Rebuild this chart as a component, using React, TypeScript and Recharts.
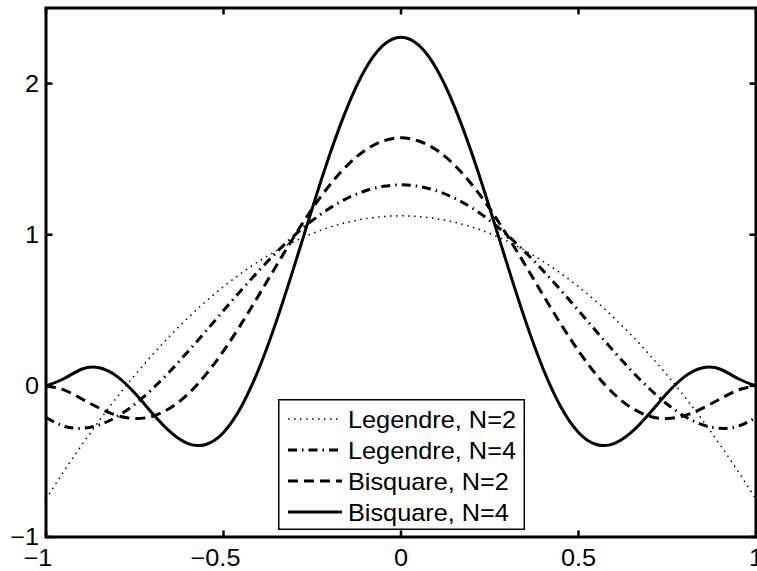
import React from 'react';
import { LineChart, Line, XAxis, YAxis, Legend, ReferenceArea } from 'recharts';

// sample positions along the x axis
const xValues = [
  -1, -0.95, -0.9, -0.85, -0.8, -0.75, -0.7, -0.65, -0.6, -0.55, -0.5,
  -0.45, -0.4, -0.35, -0.3, -0.25, -0.2, -0.15, -0.1, -0.05, 0,
  0.05, 0.1, 0.15, 0.2, 0.25, 0.3, 0.35, 0.4, 0.45, 0.5,
  0.55, 0.6, 0.65, 0.7, 0.75, 0.8, 0.85, 0.9, 0.95, 1
];

const legendreN2 = [
  -0.75, -0.567, -0.394, -0.23, -0.075, 0.07, 0.206, 0.333, 0.45, 0.558, 0.656,
  0.745, 0.825, 0.895, 0.956, 1.008, 1.05, 1.083, 1.106, 1.12, 1.125,
  1.12, 1.106, 1.083, 1.05, 1.008, 0.956, 0.895, 0.825, 0.745, 0.656,
  0.558, 0.45, 0.333, 0.206, 0.07, -0.075, -0.23, -0.394, -0.567, -0.75
];

const legendreN4 = [
  -0.21, -0.266, -0.281, -0.258, -0.203, -0.122, -0.019, 0.098, 0.227, 0.361, 0.498,
  0.633, 0.763, 0.885, 0.996, 1.094, 1.177, 1.243, 1.291, 1.32, 1.33,
  1.32, 1.291, 1.243, 1.177, 1.094, 0.996, 0.885, 0.763, 0.633, 0.498,
  0.361, 0.227, 0.098, -0.019, -0.122, -0.203, -0.258, -0.281, -0.266, -0.21
];

const bisquareN2 = [
  0, -0.027, -0.085, -0.147, -0.196, -0.216, -0.201, -0.146, -0.054, 0.074, 0.231,
  0.41, 0.602, 0.799, 0.992, 1.172, 1.331, 1.462, 1.56, 1.62, 1.641,
  1.62, 1.56, 1.462, 1.331, 1.172, 0.992, 0.799, 0.602, 0.41, 0.231,
  0.074, -0.054, -0.146, -0.201, -0.216, -0.196, -0.147, -0.085, -0.027, 0
];

const bisquareN4 = [
  0, 0.047, 0.11, 0.12, 0.063, -0.048, -0.183, -0.305, -0.382, -0.388, -0.308,
  -0.138, 0.115, 0.435, 0.797, 1.174, 1.535, 1.851, 2.098, 2.254, 2.307,
  2.254, 2.098, 1.851, 1.535, 1.174, 0.797, 0.435, 0.115, -0.138, -0.308,
  -0.388, -0.382, -0.305, -0.183, -0.048, 0.063, 0.12, 0.11, 0.047, 0
];

const xTicks = [-1, -0.5, 0, 0.5, 1];
const yTicks = [-1, 0, 1, 2];

const series = [
  { key: 'legendreN2', name: 'Legendre, N=2', values: legendreN2, width: 1.5, dash: '1.5 4.5' },
  { key: 'legendreN4', name: 'Legendre, N=4', values: legendreN4, width: 3, dash: '9 5 1.5 5' },
  { key: 'bisquareN2', name: 'Bisquare, N=2', values: bisquareN2, width: 3, dash: '10 6' },
  { key: 'bisquareN4', name: 'Bisquare, N=4', values: bisquareN4, width: 3, dash: undefined as string | undefined },
];

const data = xValues.map((x, i) => {
  const row: Record<string, number> = { x };
  series.forEach(s => { row[s.key] = s.values[i]; });
  return row;
});

const FONT = '"Liberation Sans", Arial, Helvetica, sans-serif';
const PLOT_LEFT = 46;
const PLOT_RIGHT = 756;
const PLOT_TOP = 8;
const PLOT_BOTTOM = 537;

const fmt = (v: number) => (v < 0 ? `\u2212${Math.abs(v)}` : `${v}`);

const XTick = (props: any) => {
  const { x, payload } = props;
  const v = payload.value as number;
  const shift = v < 0 ? -8 : 0;
  return (
    <g>
      <line x1={x} x2={x} y1={PLOT_BOTTOM} y2={PLOT_BOTTOM - 6.5} stroke="#000" strokeWidth={2.5} />
      <line x1={x} x2={x} y1={PLOT_TOP} y2={PLOT_TOP + 6.5} stroke="#000" strokeWidth={2.5} />
      <g transform={`translate(${x + shift},566) scale(1.1,1)`}>
        <text textAnchor="middle" fontSize={23} fontFamily={FONT} fill="#000">{fmt(v)}</text>
      </g>
    </g>
  );
};

const YTick = (props: any) => {
  const { y, payload } = props;
  const v = payload.value as number;
  return (
    <g>
      <line x1={PLOT_LEFT} x2={PLOT_LEFT + 6.5} y1={y} y2={y} stroke="#000" strokeWidth={2.5} />
      <line x1={PLOT_RIGHT} x2={PLOT_RIGHT - 6.5} y1={y} y2={y} stroke="#000" strokeWidth={2.5} />
      <g transform={`translate(39,${y + 8}) scale(1.1,1)`}>
        <text textAnchor="end" fontSize={23} fontFamily={FONT} fill="#000">{fmt(v)}</text>
      </g>
    </g>
  );
};

const renderLegend = () => (
  <svg width={247} height={131} style={{ display: 'block' }}>
    <rect x={0.75} y={0.75} width={245.5} height={129.5} fill="#fff" stroke="#000" strokeWidth={1.5} />
    {series.map((s, i) => {
      const cy = 20 + i * 31;
      return (
        <g key={s.key}>
          <line x1={10} x2={64} y1={cy} y2={cy} stroke="#000" strokeWidth={s.width} strokeDasharray={s.dash} />
          <g transform={`translate(70,${cy + 8.5}) scale(1.1,1)`}>
            <text fontSize={23} fontFamily={FONT} fill="#000">{s.name}</text>
          </g>
        </g>
      );
    })}
  </svg>
);

export default function App() {
  return (
    <div style={{ position: 'absolute', left: 0, top: 0, background: '#fff' }}>
      <LineChart width={757} height={571} data={data} margin={{ top: 8, right: 1, left: 0, bottom: 0 }}>
        <XAxis
          dataKey="x"
          type="number"
          domain={[-1, 1]}
          ticks={xTicks}
          interval={0}
          height={34}
          axisLine={false}
          tickLine={false}
          tick={<XTick />}
          allowDataOverflow
        />
        <YAxis
          type="number"
          domain={[-1, 2.5]}
          ticks={yTicks}
          interval={0}
          width={46}
          axisLine={false}
          tickLine={false}
          tick={<YTick />}
          allowDataOverflow
        />
        <ReferenceArea x1={-1} x2={1} y1={-1} y2={2.5} fill="none" stroke="#000" strokeWidth={3} />
        {series.map(s => (
          <Line
            key={s.key}
            dataKey={s.key}
            name={s.name}
            type="natural"
            stroke="#000"
            strokeWidth={s.width}
            strokeDasharray={s.dash}
            dot={false}
            activeDot={false}
            isAnimationActive={false}
          />
        ))}
        <Legend
          layout="vertical"
          align="center"
          verticalAlign="middle"
          wrapperStyle={{ left: 278, top: 399, width: 247, height: 131 }}
          content={renderLegend}
        />
      </LineChart>
    </div>
  );
}
